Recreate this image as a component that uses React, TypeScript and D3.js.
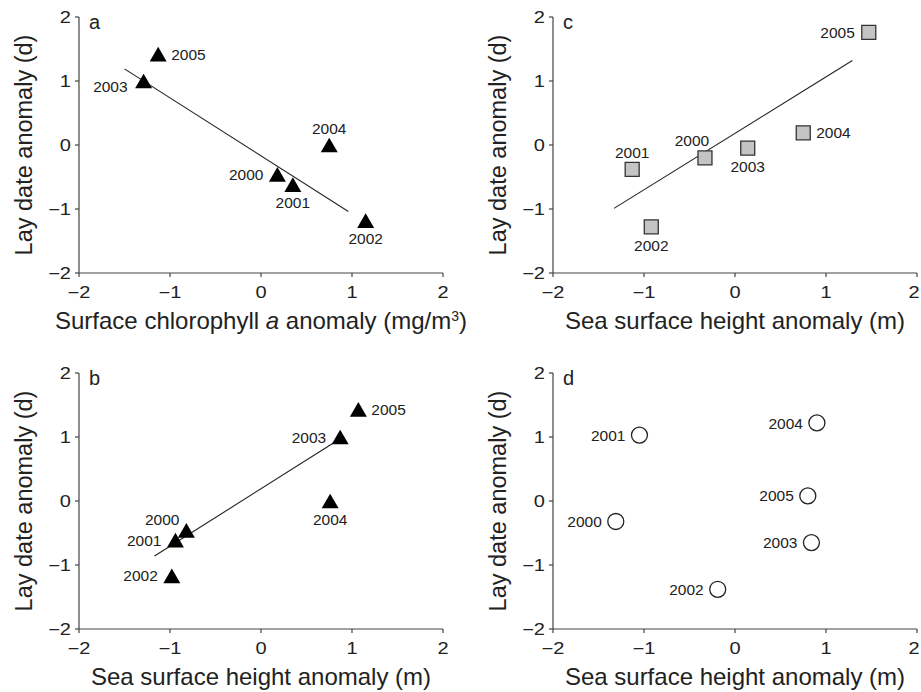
import * as d3 from "d3";

const WIDTH = 921;
const HEIGHT = 692;
const FONT = "'Liberation Sans', Arial, Helvetica, sans-serif";

const years = ["2000", "2001", "2002", "2003", "2004", "2005"];
const ticks = [-2, -1, 0, 1, 2];

// panel a: chlorophyll vs lay date
const chlA = [0.18, 0.35, 1.15, -1.29, 0.75, -1.13];
const layA = [-0.46, -0.62, -1.18, 1.0, 0.0, 1.42];
const fitA = [[-1.5, 1.19], [0.96, -1.04]];
const placeA = ["l", "b", "b", "lb", "t", "r"];

// panel b: sea surface height vs lay date
const sshB = [-0.82, -0.94, -0.98, 0.87, 0.76, 1.07];
const layB = [-0.46, -0.61, -1.17, 1.0, 0.0, 1.43];
const fitB = [[-1.17, -0.86], [0.8, 0.91]];
const placeB = ["tl", "l", "l", "l", "b", "r"];

// panel c
const sshC = [-0.33, -1.13, -0.92, 0.14, 0.75, 1.47];
const layC = [-0.2, -0.38, -1.28, -0.05, 0.19, 1.76];
const fitC = [[-1.33, -0.99], [1.29, 1.32]];
const placeC = ["tm", "t", "b", "b", "r", "l"];

// panel d
const sshD = [-1.31, -1.05, -0.19, 0.84, 0.9, 0.8];
const layD = [-0.32, 1.03, -1.38, -0.65, 1.22, 0.08];
const placeD = ["l", "l", "l", "l", "l", "l"];

type Marker = "triangle" | "square" | "circle";

interface PanelProps {
  left: number;
  top: number;
  letter: string;
  xs: number[];
  ys: number[];
  places: string[];
  fit?: number[][];
  marker: Marker;
  xTitle: React.ReactNode;
}

const PW = 364;
const PH = 256;

const TRI_SIZE = 125;
const triOffset = Math.sqrt(TRI_SIZE / (Math.sqrt(3) * 3)) / 2;

const labelOffset = (p: string) => {
  switch (p) {
    case "r":
      return { dx: 13, dy: 0, anchor: "start" };
    case "t":
      return { dx: 0, dy: -17, anchor: "middle" };
    case "tm":
      return { dx: -13, dy: -17, anchor: "middle" };
    case "b":
      return { dx: 0, dy: 18, anchor: "middle" };
    case "tl":
      return { dx: -7, dy: -11, anchor: "end" };
    case "lb":
      return { dx: -16, dy: 5, anchor: "end" };
    default:
      return { dx: -14, dy: 0, anchor: "end" };
  }
};

const Panel = ({ left, top, letter, xs, ys, places, fit, marker, xTitle }: PanelProps) => {
  const x = d3.scaleLinear().domain([-2, 2]).range([left, left + PW]);
  const y = d3.scaleLinear().domain([-2, 2]).range([top + PH, top]);
  const fmt = d3.format("d");

  const tri = d3.symbol().type(d3.symbolTriangle).size(TRI_SIZE)()!;
  const sq = d3.symbol().type(d3.symbolSquare).size(196)()!;
  const axisColor = "#444";

  return (
    <g fontFamily={FONT}>
      {/* axes */}
      <line x1={left} x2={left} y1={top} y2={top + PH} stroke={axisColor} strokeWidth={1.2} />
      <line x1={left} x2={left + PW} y1={top + PH} y2={top + PH} stroke={axisColor} strokeWidth={1.2} />
      {ticks.map((t) => (
        <g key={"y" + t}>
          <line x1={left - 4} x2={left} y1={y(t)} y2={y(t)} stroke={axisColor} strokeWidth={1.2} />
          <text
            transform={`translate(${left - 8},${y(t)}) scale(1.25,1)`}
            dy="0.36em"
            textAnchor="end"
            fontSize={16}
            fill="#222"
          >
            {fmt(t)}
          </text>
        </g>
      ))}
      {ticks.map((t) => (
        <g key={"x" + t}>
          <line x1={x(t)} x2={x(t)} y1={top + PH} y2={top + PH + 4} stroke={axisColor} strokeWidth={1.2} />
          <text
            // keep the last label inside the page edge
            transform={`translate(${Math.min(x(t), WIDTH - 7)},${top + PH + 25}) scale(1.25,1)`}
            textAnchor="middle"
            fontSize={16}
            fill="#222"
          >
            {fmt(t)}
          </text>
        </g>
      ))}
      <text
        transform={`translate(${left - 55},${top + PH / 2}) rotate(-90)`}
        textAnchor="middle"
        dy="0.35em"
        fontSize={23.5}
        fill="#222"
      >
        Lay date anomaly (d)
      </text>
      <text x={left + PW / 2} y={top + PH + 56} textAnchor="middle" fontSize={24} fill="#222">
        {xTitle}
      </text>
      <text x={left + 10} y={top + 12} fontSize={20} fill="#222">
        {letter}
      </text>

      {fit && (
        <line
          x1={x(fit[0][0])}
          y1={y(fit[0][1])}
          x2={x(fit[1][0])}
          y2={y(fit[1][1])}
          stroke="#222"
          strokeWidth={1.1}
        />
      )}

      {xs.map((v, i) => {
        const cx = x(v);
        const cy = y(ys[i]);
        if (marker === "triangle")
          return <path key={i} d={tri} transform={`translate(${cx},${cy + triOffset})`} fill="#000" />;
        if (marker === "square")
          return (
            <path key={i} d={sq} transform={`translate(${cx},${cy})`} fill="#c4c4c4" stroke="#333" strokeWidth={1.3} />
          );
        return <circle key={i} cx={cx} cy={cy} r={8} fill="#fff" stroke="#222" strokeWidth={1.3} />;
      })}

      {xs.map((v, i) => {
        const o = labelOffset(places[i]);
        return (
          <text
            key={"l" + i}
            x={x(v) + o.dx}
            y={y(ys[i]) + o.dy}
            dy="0.36em"
            textAnchor={o.anchor}
            fontSize={15.5}
            fill="#222"
          >
            {years[i]}
          </text>
        );
      })}
    </g>
  );
};

export default function App() {
  const chlTitle = (
    <>
      Surface chlorophyll <tspan fontStyle="italic">a</tspan> anomaly (mg/m
      <tspan fontSize={14} dy={-8}>3</tspan>
      <tspan dy={8}>)</tspan>
    </>
  );
  const sshTitle = "Sea surface height anomaly (m)";
  return (
    <svg
      width={WIDTH}
      height={HEIGHT}
      style={{ position: "absolute", left: 0, top: 0, background: "#fff" }}
    >
      <Panel left={79} top={17} letter="a" xs={chlA} ys={layA} places={placeA} fit={fitA} marker="triangle" xTitle={chlTitle} />
      <Panel left={553} top={17} letter="c" xs={sshC} ys={layC} places={placeC} fit={fitC} marker="square" xTitle={sshTitle} />
      <Panel left={79} top={373} letter="b" xs={sshB} ys={layB} places={placeB} fit={fitB} marker="triangle" xTitle={sshTitle} />
      <Panel left={553} top={373} letter="d" xs={sshD} ys={layD} places={placeD} marker="circle" xTitle={sshTitle} />
    </svg>
  );
}
